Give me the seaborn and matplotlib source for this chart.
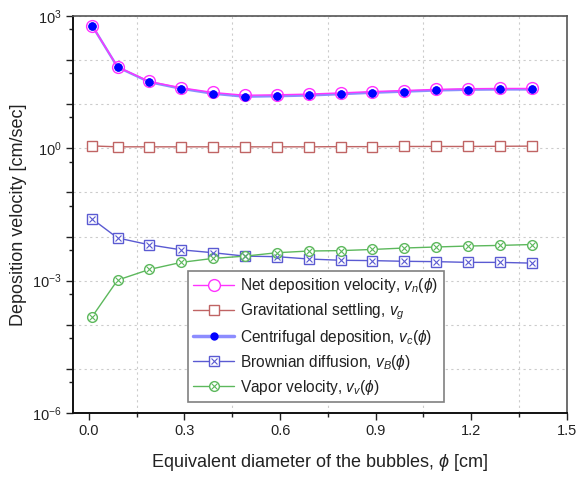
import numpy as np
import pandas as pd
import seaborn as sns
import matplotlib
matplotlib.use("Agg")
import matplotlib.pyplot as plt
from matplotlib.ticker import (LogLocator, FuncFormatter, MultipleLocator, FixedLocator,
                               NullFormatter)
from matplotlib.lines import Line2D
from matplotlib.legend_handler import HandlerTuple

# Bubble equivalent diameter [cm]
diameter = [0.01, 0.09, 0.19, 0.29, 0.39, 0.49, 0.59, 0.69, 0.79, 0.89, 0.99, 1.09, 1.19, 1.29, 1.39]

# Deposition velocity components [cm/sec]
net_velocity = [606, 70, 32.7, 23.5, 18.4, 15.9, 16.3, 16.9, 18.0, 19.3, 20.4, 21.6, 22.4, 22.7, 22.7]
gravitational = [1.13, 1.08, 1.08, 1.08, 1.08, 1.08, 1.08, 1.08, 1.09, 1.09, 1.10, 1.10, 1.10, 1.11, 1.12]
centrifugal = [605, 69, 31.6, 22.4, 17.3, 14.8, 15.2, 15.8, 16.9, 18.2, 19.3, 20.5, 21.3, 21.6, 21.6]
brownian = [0.0251, 0.0093, 0.0065, 0.0050, 0.0043, 0.0036, 0.0035, 0.0031, 0.0029,
            0.00285, 0.00275, 0.0027, 0.0026, 0.0026, 0.0025]
vapor = [0.000152, 0.00103, 0.0018, 0.0026, 0.0032, 0.0036, 0.0043, 0.0047, 0.0048,
         0.0051, 0.0055, 0.0058, 0.0061, 0.0063, 0.0066]

labels = [
    r"Net deposition velocity, $v_n(\phi)$",
    r"Gravitational settling, $v_g$",
    r"Centrifugal deposition, $v_c(\phi)$",
    r"Brownian diffusion, $v_B(\phi)$",
    r"Vapor velocity, $v_v(\phi)$",
]

x_minor = [0.15, 0.45, 0.75, 1.05, 1.35]

df = pd.DataFrame({
    "d": diameter, "net": net_velocity, "grav": gravitational,
    "cent": centrifugal, "brown": brownian, "vapor": vapor,
})

sns.set_style("white")
plt.rcParams["font.family"] = ["Liberation Sans", "DejaVu Sans"]
plt.rcParams["mathtext.fontset"] = "custom"
plt.rcParams["mathtext.rm"] = "Liberation Sans"
plt.rcParams["mathtext.it"] = "Liberation Sans:italic"
plt.rcParams["mathtext.fallback"] = "cm"

fig = plt.figure(figsize=(5.79, 4.82), dpi=100)
ax = fig.add_axes([0.126, 0.143, 0.853, 0.824])

c_net = "#ff33ff"
c_grav = "#c06464"
c_cent_line = "#8c8cff"
c_cent = "#0000ff"
c_brown = "#5a5ad2"
c_vap = "#5cb85c"

# Centrifugal deposition (filled dots) and net deposition (open rings)
sns.lineplot(data=df, x="d", y="cent", ax=ax, color=c_cent_line, lw=1.8,
             marker="o", markersize=6, markerfacecolor=c_cent, markeredgecolor=c_cent,
             markeredgewidth=0, zorder=3)
sns.lineplot(data=df, x="d", y="net", ax=ax, color=c_net, lw=1.0,
             marker="o", markersize=8.5, markerfacecolor="none", markeredgecolor=c_net,
             markeredgewidth=1.0, zorder=4)
sns.lineplot(data=df, x="d", y="cent", ax=ax, color=c_cent, lw=0,
             marker="o", markersize=6, markerfacecolor=c_cent, markeredgecolor=c_cent,
             markeredgewidth=0, zorder=5)

# Gravitational settling
sns.lineplot(data=df, x="d", y="grav", ax=ax, color=c_grav, lw=1.0,
             marker="s", markersize=7, markerfacecolor="white", markeredgecolor=c_grav,
             markeredgewidth=1.0, zorder=3)

# Brownian diffusion (crossed squares)
sns.lineplot(data=df, x="d", y="brown", ax=ax, color=c_brown, lw=1.0,
             marker="s", markersize=6.5, markerfacecolor="white", markeredgecolor=c_brown,
             markeredgewidth=1.0, zorder=3)
sns.lineplot(data=df, x="d", y="brown", ax=ax, color=c_brown, lw=0,
             marker="x", markersize=4, markeredgecolor=c_brown, markeredgewidth=0.8, zorder=4)

# Vapor velocity (crossed circles)
sns.lineplot(data=df, x="d", y="vapor", ax=ax, color=c_vap, lw=1.0,
             marker="o", markersize=7, markerfacecolor="white", markeredgecolor=c_vap,
             markeredgewidth=1.0, zorder=3)
sns.lineplot(data=df, x="d", y="vapor", ax=ax, color=c_vap, lw=0,
             marker="x", markersize=4, markeredgecolor=c_vap, markeredgewidth=0.8, zorder=4)

ax.set_yscale("log")
ax.set_ylim(1e-6, 1e3)
ax.set_xlim(-0.05, 1.5)

ax.yaxis.set_major_locator(LogLocator(base=10, numticks=20))
ax.yaxis.set_minor_locator(LogLocator(base=10, subs=[5.0], numticks=20))
ax.yaxis.set_minor_formatter(NullFormatter())


def decade_label(v, pos):
    e = int(round(np.log10(v)))
    return r"$10^{%d}$" % e if e % 3 == 0 else ""


ax.yaxis.set_major_formatter(FuncFormatter(decade_label))
ax.xaxis.set_major_locator(MultipleLocator(0.3))
ax.xaxis.set_minor_locator(FixedLocator(x_minor))
ax.xaxis.set_major_formatter(FuncFormatter(lambda v, p: f"{v:.1f}"))

ax.grid(False)
ax.yaxis.grid(True, which="major", linestyle=(0, (2, 3)), color="#cccccc", lw=0.8)
ax.xaxis.grid(False, which="major")
ax.xaxis.grid(True, which="minor", linestyle=(0, (2, 3)), color="#cccccc", lw=0.8)

ax.tick_params(axis="both", which="major", direction="out", length=5, width=1.0,
               labelsize=10.5, color="#222222", labelcolor="#222222", pad=3,
               left=True, bottom=True)
ax.tick_params(axis="both", which="minor", direction="out", length=3, width=1.0,
               color="#222222", left=True, bottom=True)

for side in ["left", "bottom"]:
    ax.spines[side].set_color("#111111")
    ax.spines[side].set_linewidth(1.4)
for side in ["top", "right"]:
    ax.spines[side].set_color("#555555")
    ax.spines[side].set_linewidth(1.2)

ax.set_xlabel(r"Equivalent diameter of the bubbles, $\phi$ [cm]", fontsize=13,
              color="#222222", labelpad=10)
ax.set_ylabel("Deposition velocity [cm/sec]", fontsize=13, color="#222222", labelpad=4)

# Legend entries
h_net = Line2D([], [], color=c_net, lw=1.0, marker="o", markersize=8.5,
               markerfacecolor="white", markeredgecolor=c_net)
h_grav = Line2D([], [], color=c_grav, lw=1.0, marker="s", markersize=6.5,
                markerfacecolor="white", markeredgecolor=c_grav)
h_cent = Line2D([], [], color=c_cent_line, lw=2.5, marker="o", markersize=6,
                markerfacecolor=c_cent, markeredgecolor=c_cent, markeredgewidth=0)
h_brown = (Line2D([], [], color=c_brown, lw=1.0, marker="s", markersize=6.5,
                  markerfacecolor="white", markeredgecolor=c_brown),
           Line2D([], [], color=c_brown, lw=0, marker="x", markersize=4,
                  markeredgecolor=c_brown, markeredgewidth=0.8))
h_vap = (Line2D([], [], color=c_vap, lw=1.0, marker="o", markersize=7,
                markerfacecolor="white", markeredgecolor=c_vap),
         Line2D([], [], color=c_vap, lw=0, marker="x", markersize=4,
                markeredgecolor=c_vap, markeredgewidth=0.8))

leg = ax.legend([h_net, h_grav, h_cent, h_brown, h_vap], labels,
                handler_map={tuple: HandlerTuple(ndivide=1)},
                loc="lower left", bbox_to_anchor=(0.233, 0.028),
                fontsize=11.2, frameon=True, fancybox=False, framealpha=1,
                edgecolor="#808080", handlelength=2.6, labelspacing=0.38,
                borderpad=0.35, handletextpad=0.4, borderaxespad=0)
leg.get_frame().set_linewidth(1.2)
for t in leg.get_texts():
    t.set_color("#222222")

fig.savefig("out.png", dpi=100)
